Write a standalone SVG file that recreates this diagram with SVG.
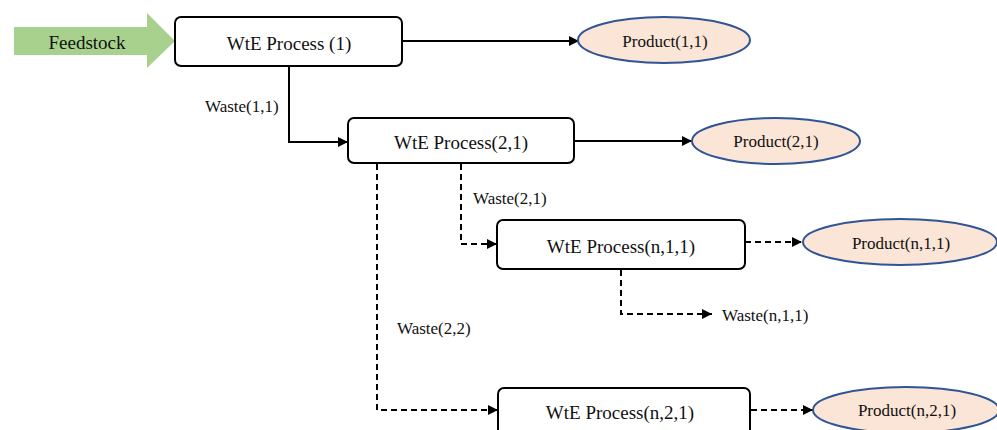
<svg xmlns="http://www.w3.org/2000/svg" width="997" height="430" viewBox="0 0 997 430">
<style>
text{font-family:"Liberation Serif","Times New Roman",serif;fill:#111;dominant-baseline:central}
.bt{font-size:19px;text-anchor:middle}
.lt{font-size:17px}
.pt{font-size:17px;text-anchor:middle}
.box{fill:#fff;stroke:#000;stroke-width:2}
.ell{fill:#FBE5D6;stroke:#2F5597;stroke-width:2}
.c{fill:none;stroke:#000;stroke-width:2}
.d{fill:none;stroke:#000;stroke-width:2;stroke-dasharray:6 4}
</style>
<defs>
<marker id="ah" viewBox="0 0 10 10" refX="10" refY="5" markerWidth="6" markerHeight="5" markerUnits="strokeWidth" orient="auto">
<path d="M0,0 L10,5 L0,10 z" fill="#000"/>
</marker>
</defs>
<rect width="997" height="430" fill="#fff"/>
<g id="connectors">
<path class="c" d="M402,41 H579" marker-end="url(#ah)"/>
<path class="c" d="M289,66 V142 H348" marker-end="url(#ah)"/>
<path class="c" d="M574,141 H692" marker-end="url(#ah)"/>
<path class="d" d="M461,164 V244 H497" marker-end="url(#ah)"/>
<path class="d" d="M377,164 V410 H498" marker-end="url(#ah)"/>
<path class="d" d="M745,242 H802" marker-end="url(#ah)"/>
<path class="d" d="M621,270 V314 H712" marker-end="url(#ah)"/>
<path class="d" d="M751,410 H813" marker-end="url(#ah)"/>
</g>
<g id="feedstock">
<path d="M14,27 H147 V13 L175,41 L147,68 V55 H14 Z" fill="#A9D18E"/>
<text class="bt" x="87" y="42">Feedstock</text>
</g>
<g id="p1">
<rect class="box" x="175" y="17" width="227" height="49" rx="6"/>
<text class="bt" x="289" y="43">WtE Process (1)</text>
</g>
<g id="prod11">
<ellipse class="ell" cx="664" cy="40" rx="86" ry="23"/>
<text class="pt" x="665" y="41">Product(1,1)</text>
</g>
<g id="p21">
<rect class="box" x="348" y="118" width="226" height="45" rx="6"/>
<text class="bt" x="461" y="142">WtE Process(2,1)</text>
</g>
<g id="prod21">
<ellipse class="ell" cx="776" cy="141" rx="84" ry="23"/>
<text class="pt" x="776" y="141">Product(2,1)</text>
</g>
<g id="pn11">
<rect class="box" x="497" y="220" width="248" height="49" rx="6"/>
<text class="bt" x="621" y="246">WtE Process(n,1,1)</text>
</g>
<g id="prodn11">
<ellipse class="ell" cx="900" cy="242" rx="97" ry="23"/>
<text class="pt" x="901" y="243">Product(n,1,1)</text>
</g>
<g id="pn21">
<rect class="box" x="498" y="388" width="252" height="50" rx="6"/>
<text class="bt" x="620" y="412">WtE Process(n,2,1)</text>
</g>
<g id="prodn21">
<ellipse class="ell" cx="906" cy="410" rx="93" ry="23"/>
<text class="pt" x="907" y="410">Product(n,2,1)</text>
</g>
<g id="labels">
<text class="lt" x="205" y="106">Waste(1,1)</text>
<text class="lt" x="473" y="198">Waste(2,1)</text>
<text class="lt" x="397" y="328">Waste(2,2)</text>
<text class="lt" x="722" y="315">Waste(n,1,1)</text>
</g>
</svg>
